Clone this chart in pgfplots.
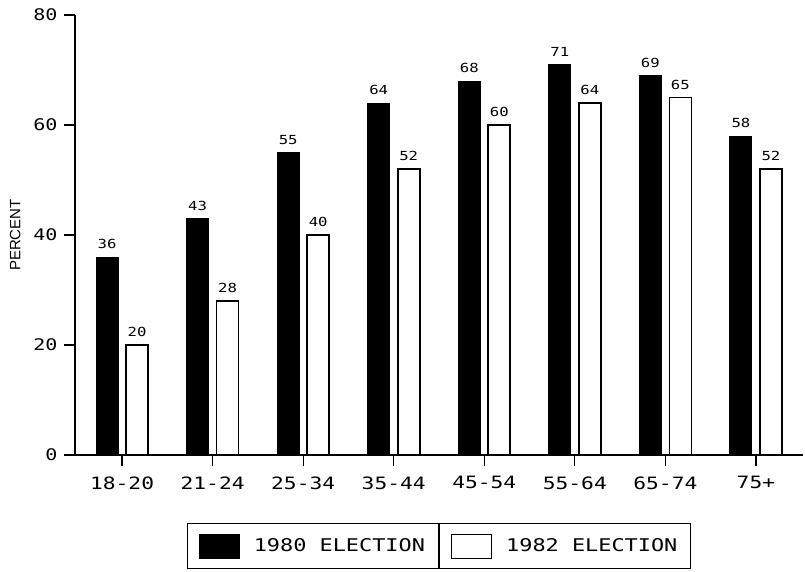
\documentclass[border=0pt]{standalone}
\usepackage{fontspec}
\setmainfont{Liberation Sans}
\newfontfamily\plotfont[FakeStretch=1.25]{DejaVu Sans Mono}
\usepackage{pgfplots}
\pgfplotsset{compat=1.18}
\begin{document}
\begin{tikzpicture}[x=1pt,y=1pt]
\useasboundingbox (-75,-116) rectangle (730,455);
\begin{axis}[
  at={(0,0)}, anchor=south west,
  scale only axis, width=728pt, height=440pt,
  xmin=-0.52, xmax=7.52, ymin=0, ymax=80,
  enlargelimits=false, clip=false,
  axis x line*=bottom, axis y line*=left,
  axis line style={line width=1.6pt},
  tick align=outside, major tick length=11pt,
  tick style={line width=1.3pt, black},
  xtick={0,...,7},
  xticklabels={18-20,21-24,25-34,35-44,45-54,55-64,65-74,75+},
  ytick={0,20,40,60,80},
  /pgf/number format/assume math mode=true,
  xticklabel style={font=\plotfont\fontsize{17}{17}\selectfont, yshift=-7pt},
  yticklabel style={font=\plotfont\fontsize{16}{16}\selectfont, xshift=-3pt},
  ylabel={PERCENT},
  ylabel style={font=\fontsize{15}{15}\selectfont, at={(axis description cs:-0.082,0.5)}, anchor=center},
  bar width=22pt,
  nodes near coords,
  every node near coord/.append style={font=\plotfont\fontsize{12.5}{12.5}\selectfont, yshift=4pt},
  legend columns=2,
  legend style={at={(0.5,-68pt)}, anchor=north, name=leg, draw=black, line width=1.2pt,
    font=\plotfont\fontsize{17.5}{17.5}\selectfont,
    inner xsep=11pt, inner ysep=10pt,
    /tikz/every odd column/.append style={column sep=12pt},
    /tikz/every even column/.append style={column sep=24pt}},
  legend image code/.code={\draw[#1, line width=1.2pt] (0pt,-12pt) rectangle (40pt,12pt);},
]
\addplot[ybar, bar shift=-15pt, fill=black, draw=black, line width=1pt,
  every node near coord/.append style={xshift=-15pt, black}] coordinates {
(0,36) (1,43) (2,55) (3,64) (4,68) (5,71) (6,69) (7,58)};
\addlegendentry{1980 ELECTION}
\addplot[ybar, bar shift=15pt, fill=white, draw=black, line width=1.6pt,
  every node near coord/.append style={xshift=15pt, black}] coordinates {
(0,20) (1,28) (2,40) (3,52) (4,60) (5,64) (6,65) (7,52)};
\addlegendentry{1982 ELECTION}
\end{axis}
\draw[line width=1.2pt] (leg.north) -- (leg.south);
\end{tikzpicture}
\end{document}
